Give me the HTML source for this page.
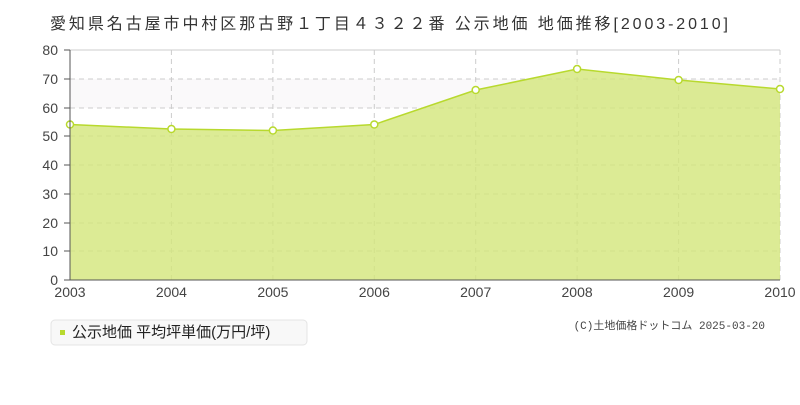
<!DOCTYPE html>
<html><head><meta charset="utf-8"><style>
body{margin:0;background:#fff;width:800px;height:400px;overflow:hidden;font-family:"Liberation Sans","Noto Sans CJK JP",sans-serif}
</style></head><body>
<svg width="800" height="400" xmlns="http://www.w3.org/2000/svg" font-family="Liberation Sans, Noto Sans CJK JP, sans-serif">
<text x="50" y="29" font-size="16" fill="#333" textLength="678" lengthAdjust="spacing">愛知県名古屋市中村区那古野１丁目４３２２番 公示地価 地価推移[2003-2010]</text>
<rect x="70" y="79" width="710" height="29" fill="#faf9fa"/>
<line x1="70" y1="50" x2="780" y2="50" stroke="#ddd" stroke-width="1.5"/>
<g stroke="#ccc" stroke-dasharray="5,4" stroke-width="1">
<line x1="70" y1="79" x2="780" y2="79"/><line x1="70" y1="108" x2="780" y2="108"/><line x1="70" y1="136" x2="780" y2="136"/><line x1="70" y1="165" x2="780" y2="165"/><line x1="70" y1="194" x2="780" y2="194"/><line x1="70" y1="223" x2="780" y2="223"/><line x1="70" y1="251" x2="780" y2="251"/>
<line x1="171.4" y1="50" x2="171.4" y2="280"/><line x1="272.9" y1="50" x2="272.9" y2="280"/><line x1="374.3" y1="50" x2="374.3" y2="280"/><line x1="475.7" y1="50" x2="475.7" y2="280"/><line x1="577.1" y1="50" x2="577.1" y2="280"/><line x1="678.6" y1="50" x2="678.6" y2="280"/><line x1="780" y1="50" x2="780" y2="280"/>
</g>
<polygon points="70,280 70,124.5 171.4,129 272.9,130.5 374.3,124.5 475.7,90 577.1,69 678.6,80 780,89 780,280" fill="#d3e67a" fill-opacity="0.8"/>
<polyline points="70,124.5 171.4,129 272.9,130.5 374.3,124.5 475.7,90 577.1,69 678.6,80 780,89" fill="none" stroke="#b8d92e" stroke-width="1.5"/>
<g fill="#fff" stroke="#b8d92e" stroke-width="1.5">
<circle cx="70" cy="124.5" r="3.5"/><circle cx="171.4" cy="129" r="3.5"/><circle cx="272.9" cy="130.5" r="3.5"/><circle cx="374.3" cy="124.5" r="3.5"/><circle cx="475.7" cy="90" r="3.5"/><circle cx="577.1" cy="69" r="3.5"/><circle cx="678.6" cy="80" r="3.5"/><circle cx="780" cy="89" r="3.5"/>
</g>
<line x1="70" y1="50" x2="70" y2="280" stroke="#555"/>
<line x1="70" y1="280" x2="780" y2="280" stroke="#555"/>
<g stroke="#555"><line x1="64" y1="50" x2="70" y2="50"/><line x1="64" y1="79" x2="70" y2="79"/><line x1="64" y1="108" x2="70" y2="108"/><line x1="64" y1="136" x2="70" y2="136"/><line x1="64" y1="165" x2="70" y2="165"/><line x1="64" y1="194" x2="70" y2="194"/><line x1="64" y1="223" x2="70" y2="223"/><line x1="64" y1="251" x2="70" y2="251"/><line x1="64" y1="280" x2="70" y2="280"/></g>
<g font-size="14" fill="#444" text-anchor="end">
<text x="58" y="55">80</text><text x="58" y="84">70</text><text x="58" y="113">60</text><text x="58" y="141">50</text><text x="58" y="170">40</text><text x="58" y="199">30</text><text x="58" y="228">20</text><text x="58" y="256">10</text><text x="58" y="285">0</text>
</g>
<g font-size="14" fill="#444" text-anchor="middle">
<text x="70" y="297">2003</text><text x="171.4" y="297">2004</text><text x="272.9" y="297">2005</text><text x="374.3" y="297">2006</text><text x="475.7" y="297">2007</text><text x="577.1" y="297">2008</text><text x="678.6" y="297">2009</text><text x="780" y="297">2010</text>
</g>
<rect x="51" y="320" width="256" height="25" rx="4" fill="#f8f8f8" stroke="#e4e4e4"/>
<rect x="60" y="330" width="5" height="5" fill="#b8d92e"/>
<text x="72" y="337" font-size="15" fill="#222">公示地価 平均坪単価(万円/坪)</text>
<text x="765" y="329" font-size="11" fill="#444" text-anchor="end" font-family="Liberation Mono, Noto Sans CJK JP, monospace">(C)土地価格ドットコム 2025-03-20</text>
</svg>
</body></html>
